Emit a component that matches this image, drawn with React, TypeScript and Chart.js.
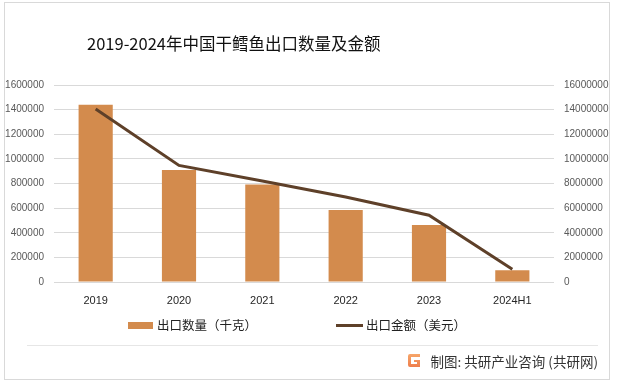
import React, { useEffect, useRef } from "react";
import { Chart, registerables } from "chart.js";

Chart.register(...registerables);

const categories = ["2019", "2020", "2021", "2022", "2023", "2024H1"];
const quantityKg = [1440000, 910000, 792000, 585000, 462000, 96000];
const amountUsd = [14050000, 9470000, 8200000, 6900000, 5420000, 1030000];

const TITLE = "2019-2024年中国干鳕鱼出口数量及金额";
const LEGEND_BAR = "出口数量（千克）";
const LEGEND_LINE = "出口金额（美元）";
const SOURCE = "制图: 共研产业咨询 (共研网)";

const BAR_COLOR = "#D38B4D";
const LINE_COLOR = "#5E4029";

export default function App() {
  const ref = useRef<HTMLCanvasElement | null>(null);

  useEffect(() => {
    document.body.style.margin = "0";
    const canvas = ref.current;
    if (!canvas) return;
    const chart = new Chart(canvas, {
      type: "bar",
      data: {
        labels: categories,
        datasets: [
          {
            type: "line",
            label: LEGEND_LINE,
            data: amountUsd,
            yAxisID: "y2",
            borderColor: LINE_COLOR,
            backgroundColor: LINE_COLOR,
            borderWidth: 3,
            pointRadius: 0,
            tension: 0,
            order: 0,
          },
          {
            type: "bar",
            label: LEGEND_BAR,
            data: quantityKg,
            yAxisID: "y",
            backgroundColor: BAR_COLOR,
            categoryPercentage: 1,
            barPercentage: 0.41,
            order: 1,
          },
        ],
      },
      options: {
        responsive: false,
        animation: false,
        maintainAspectRatio: false,
        layout: { padding: { top: 85, left: 0, right: 0, bottom: 0 } },
        plugins: {
          legend: { display: false },
          title: { display: false },
          tooltip: { enabled: false },
        },
        scales: {
          x: {
            grid: { display: false, drawTicks: false },
            border: { display: false },
            ticks: {
              color: "#262626",
              font: { family: "Liberation Sans", size: 11 },
              padding: 12,
              maxRotation: 0,
            },
            afterFit: (s: any) => {
              s.height = 103;
            },
          },
          y: {
            position: "left",
            min: 0,
            max: 1600000,
            grid: { color: "#D9D9D9", lineWidth: 1, drawTicks: false },
            border: { display: false },
            ticks: {
              stepSize: 200000,
              color: "#595959",
              font: { family: "Liberation Sans", size: 10 },
              padding: 10,
              callback: (v: any) => String(v),
            },
            afterFit: (s: any) => {
              s.width = 54;
            },
          },
          y2: {
            position: "right",
            min: 0,
            max: 16000000,
            grid: { display: false, drawTicks: false },
            border: { display: false },
            ticks: {
              stepSize: 2000000,
              color: "#595959",
              font: { family: "Liberation Sans", size: 10 },
              padding: 10,
              callback: (v: any) => String(v),
            },
            afterFit: (s: any) => {
              s.width = 63;
            },
          },
        },
      },
    });
    return () => chart.destroy();
  }, []);

  const cjk = '"Noto Sans CJK SC", "Noto Sans", sans-serif';

  return (
    <div
      style={{
        position: "relative",
        width: 617,
        height: 385,
        background: "#fff",
        overflow: "hidden",
      }}
    >
      <div
        style={{
          position: "absolute",
          left: 4,
          top: 2,
          width: 604,
          height: 376,
          border: "1px solid #D9D9D9",
          boxSizing: "content-box",
        }}
      />
      <canvas
        ref={ref}
        width={617}
        height={385}
        style={{ position: "absolute", left: 0, top: 0, width: 617, height: 385 }}
      />
      <div
        style={{
          position: "absolute",
          left: 87,
          top: 31,
          fontFamily: cjk,
          fontSize: 16.5,
          color: "#111",
          lineHeight: "24px",
          whiteSpace: "nowrap",
        }}
      >
        {TITLE}
      </div>
      {/* legend */}
      <div
        style={{
          position: "absolute",
          left: 128,
          top: 322,
          width: 25,
          height: 7,
          background: BAR_COLOR,
        }}
      />
      <div
        style={{
          position: "absolute",
          left: 157,
          top: 316,
          fontFamily: cjk,
          fontSize: 12.5,
          lineHeight: "18px",
          color: "#222",
          whiteSpace: "nowrap",
        }}
      >
        {LEGEND_BAR}
      </div>
      <div
        style={{
          position: "absolute",
          left: 336,
          top: 324,
          width: 27,
          height: 3,
          background: LINE_COLOR,
        }}
      />
      <div
        style={{
          position: "absolute",
          left: 366,
          top: 316,
          fontFamily: cjk,
          fontSize: 12.5,
          lineHeight: "18px",
          color: "#222",
          whiteSpace: "nowrap",
        }}
      >
        {LEGEND_LINE}
      </div>
      {/* footer */}
      <div
        style={{
          position: "absolute",
          left: 27,
          top: 345,
          width: 571,
          height: 1,
          background: "#E6E6E6",
        }}
      />
      <svg
        width={14}
        height={13}
        viewBox="0 0 14 13"
        style={{ position: "absolute", left: 407, top: 354 }}
      >
        <defs>
          <linearGradient id="lg" x1="0" y1="0" x2="0" y2="1">
            <stop offset="0" stopColor="#F6A66A" />
            <stop offset="1" stopColor="#EF7E4C" />
          </linearGradient>
        </defs>
        <path
          d="M1 2 Q1 0 3 0 L13 0 L13 3 L4 3 L4 10 L10 10 L10 8 L7 8 L7 6 L13 6 L13 13 L3 13 Q1 13 1 11 Z"
          fill="url(#lg)"
        />
      </svg>
      <div
        style={{
          position: "absolute",
          right: 19,
          top: 352,
          fontFamily: cjk,
          fontSize: 13.5,
          lineHeight: "18px",
          color: "#333",
          whiteSpace: "nowrap",
        }}
      >
        {SOURCE}
      </div>
    </div>
  );
}
